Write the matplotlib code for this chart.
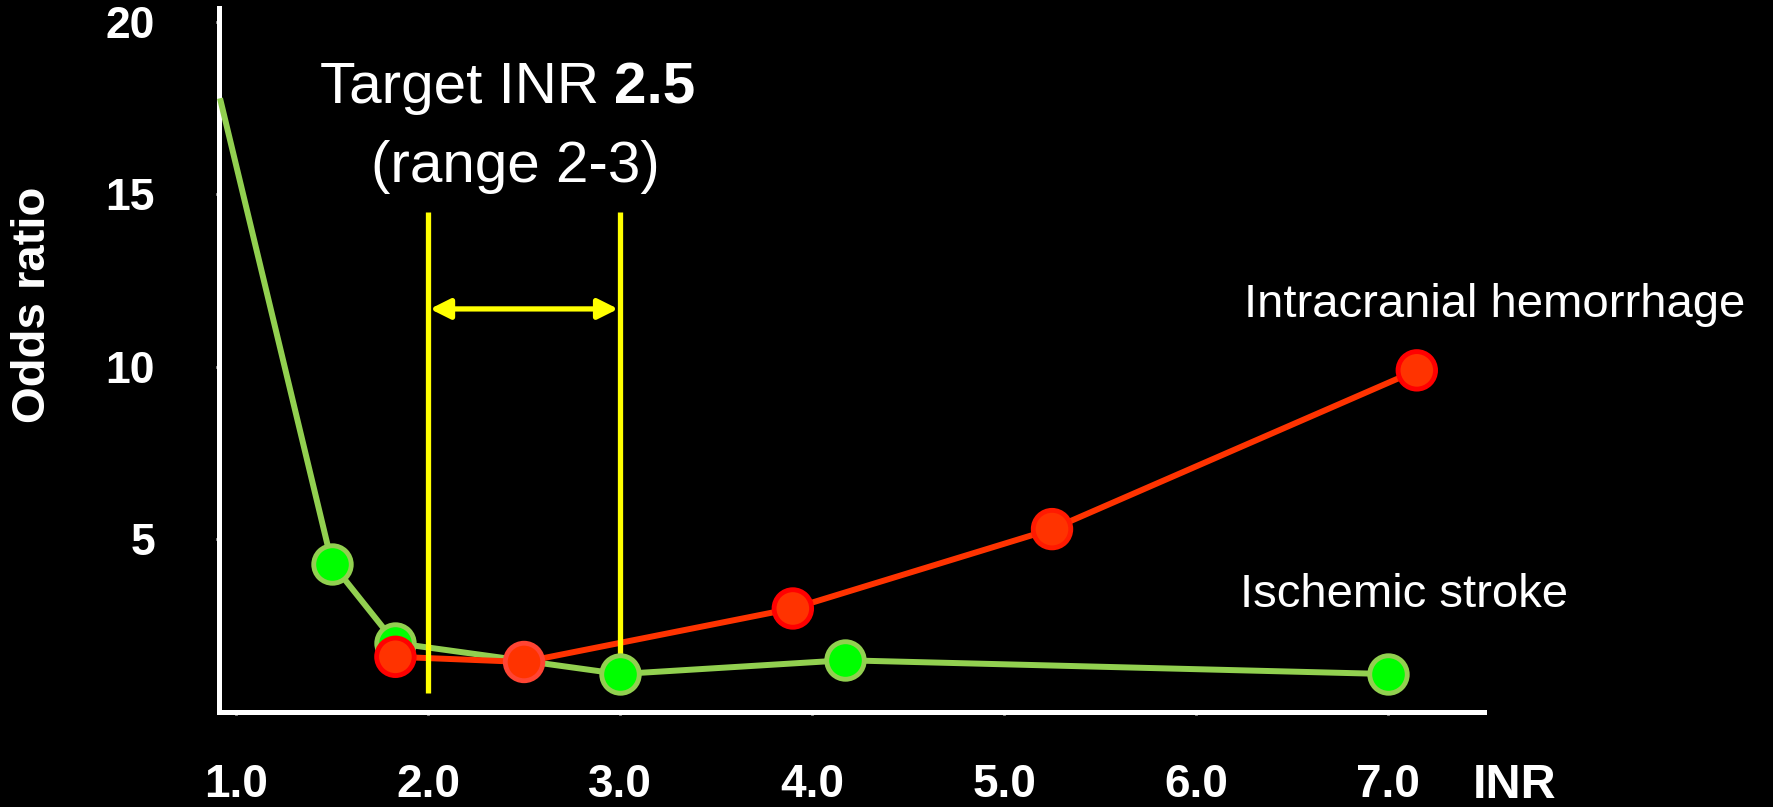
import matplotlib.pyplot as plt

plt.rcParams['font.family'] = ['Liberation Sans', 'DejaVu Sans']

# INR vs odds ratio
stroke_inr = [0.92, 1.50, 1.83, 3.00, 4.17, 7.00]
stroke_or = [17.7, 4.3, 2.0, 1.1, 1.5, 1.1]

ich_inr = [1.83, 2.50, 3.90, 5.25, 7.15]
ich_or = [1.6, 1.45, 3.0, 5.3, 9.9]

target_low, target_high = 2.0, 3.0
x_ticks = [1, 2, 3, 4, 5, 6, 7]
x_labels = ['1.0', '2.0', '3.0', '4.0', '5.0', '6.0', '7.0']
y_ticks = [5, 10, 15, 20]

GREEN_LINE = '#92D050'
GREEN_FILL = '#00FF00'
RED_LINE = '#FF3300'
YELLOW = '#FFFF00'

fig = plt.figure(figsize=(17.73, 8.07), dpi=100, facecolor='black')
ax = fig.add_axes([0.1235, 0.1177, 0.7135, 0.8724])
ax.set_facecolor('black')

# ischemic stroke curve (first point has no marker)
ax.plot(stroke_inr, stroke_or, color=GREEN_LINE, lw=4.3, zorder=3, clip_on=False)
ax.scatter(stroke_inr[1:], stroke_or[1:], s=27 ** 2, c=GREEN_FILL,
           edgecolors=GREEN_LINE, linewidths=3.5, zorder=5, clip_on=False)

# intracranial hemorrhage curve
ax.plot(ich_inr, ich_or, color=RED_LINE, lw=4.3, zorder=4, clip_on=False)
ich_edges = ['#FF0000', '#FF4433', '#FF0000', '#FF1A00', '#FF0000']
ax.scatter(ich_inr, ich_or, s=27 ** 2, c=RED_LINE,
           edgecolors=ich_edges, linewidths=3.5, zorder=6, clip_on=False)

# target range
for xv in (target_low, target_high):
    ax.plot([xv, xv], [0.55, 14.5], color=YELLOW, lw=3.8, zorder=4.5,
            solid_capstyle='butt')
ax.annotate('', xy=(target_high - 0.01, 11.68), xytext=(target_low + 0.01, 11.68),
            arrowprops=dict(arrowstyle='<|-|>', color=YELLOW, lw=3.8,
                            mutation_scale=30, shrinkA=0, shrinkB=0),
            zorder=4.5)

ax.set_xlim(0.911, 7.5)
ax.set_ylim(0, 20.4)

ax.set_xticks(x_ticks)
ax.set_xticklabels(x_labels)
ax.set_yticks(y_ticks)
ax.tick_params(axis='both', colors='white', direction='out', length=2, width=2,
               labelsize=33)
ax.tick_params(axis='x', pad=35)
ax.tick_params(axis='y', pad=44, labelsize=32)
for lab in ax.get_xticklabels() + ax.get_yticklabels():
    lab.set_fontweight('bold')

for side in ('top', 'right'):
    ax.spines[side].set_visible(False)
for side in ('left', 'bottom'):
    ax.spines[side].set_color('white')
    ax.spines[side].set_linewidth(3.6)

# labels
fig.text(33 / 1773, 1 - 305 / 807, 'Odds ratio', rotation=90, color='white',
         fontsize=34, fontweight='bold', ha='center', va='center')
fig.text(1515 / 1773, 1 - 798 / 807, 'INR', color='white', fontsize=35,
         fontweight='bold', ha='center', va='baseline')

fig.text(320 / 1773, 1 - 103 / 807, 'Target INR', color='white', fontsize=42,
         ha='left', va='baseline')
fig.text(695 / 1773, 1 - 103 / 807, '2.5', color='white', fontsize=42,
         fontweight='bold', ha='right', va='baseline')
fig.text(515 / 1773, 1 - 182 / 807, '(range 2-3)', color='white', fontsize=42,
         ha='center', va='baseline')

fig.text(1244 / 1773, 1 - 317 / 807, 'Intracranial hemorrhage', color='white',
         fontsize=34, ha='left', va='baseline')
fig.text(1240 / 1773, 1 - 607 / 807, 'Ischemic stroke', color='white',
         fontsize=34, ha='left', va='baseline')

fig.savefig('out.png', dpi=100, facecolor='black')
